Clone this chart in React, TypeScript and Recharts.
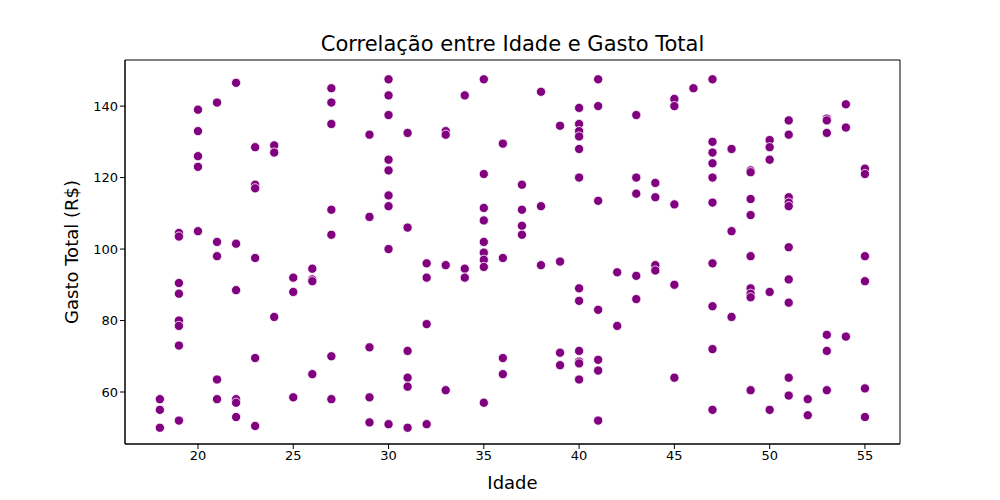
import React from "react";
import { ScatterChart, Scatter, XAxis, YAxis, Label, ReferenceArea } from "recharts";

const ages = [18,19,20,21,22,23,24,25,26,27,29,30,31,32,33,34,35,36,37,38,39,40,41,42,43,44,45,46,47,48,49,50,51,52,53,54,55];
const spends: number[][] = [
  [58,55,50],
  [104.5,103.5,90.5,87.5,80,78.5,73,52],
  [139,133,126,123,105],
  [141,102,98,63.5,58],
  [146.5,101.5,88.5,58,57,53],
  [128.5,118,117,97.5,69.5,50.5],
  [129,127,81],
  [92,88,58.5],
  [94.5,91.5,91,65],
  [145,141,135,111,104,70,58],
  [132,109,72.5,58.5,51.5],
  [147.5,143,137.5,125,122,115,112,100,51],
  [132.5,106,71.5,64,61.5,50],
  [96,92,79,51],
  [133,132,95.5,60.5],
  [143,94.5,92],
  [147.5,121,111.5,108,102,99,97,95,57],
  [129.5,97.5,69.5,65],
  [118,111,106.5,104],
  [144,112,95.5],
  [134.5,96.5,71,67.5],
  [139.5,135,133,131.5,128,120,89,85.5,71.5,68.5,68,63.5],
  [147.5,140,113.5,83,69,66,52],
  [93.5,78.5],
  [137.5,120,115.5,92.5,86],
  [118.5,114.5,95.5,94],
  [142,140,112.5,90,64],
  [145],
  [147.5,130,127,124,120,113,96,84,72,55],
  [128,105,81],
  [122,121.5,114,109.5,98,89,87.5,86.5,60.5],
  [130.5,128.5,125,88,55],
  [136,132,114.5,113,112,100.5,91.5,85,64,59],
  [58,53.5],
  [136.5,136,132.5,76,71.5,60.5],
  [140.5,134,75.5],
  [122.5,121,98,91,61,53],
];
const xTicks = [20,25,30,35,40,45,50,55];
const yTicks = [60,80,100,120,140];
const xDomain: [number, number] = [16.17, 56.84];
const yDomain: [number, number] = [45.45, 152.9];

const data = ages.flatMap((a, i) => spends[i].map((s) => ({ idade: a, gasto: s })));

const Dot = (p: any) => (
  <circle cx={p.cx} cy={p.cy} r={4.6} fill="#800080" stroke="#ffffff" strokeWidth={0.8} />
);

export default function App() {
  const font = "DejaVu Sans, sans-serif";
  return (
    <div style={{ position: "absolute", left: 0, top: 0, width: 1000, height: 500, background: "#fff", fontFamily: font }}>
      <div style={{ position: "absolute", top: 32, left: 125, width: 775, textAlign: "center", fontSize: 21, color: "#000" }}>
        Correlação entre Idade e Gasto Total
      </div>
      <ScatterChart width={1000} height={500} margin={{ top: 60, right: 100, bottom: 6, left: 55 }}>
        <XAxis
          type="number" dataKey="idade" domain={xDomain} ticks={xTicks} height={50}
          tick={{ fontSize: 13, fill: "#000", fontFamily: font }} tickLine={{ stroke: "#000" }} tickSize={5}
          axisLine={{ stroke: "#000" }} allowDataOverflow
        >
          <Label value="Idade" position="insideBottom" offset={5} style={{ fontSize: 18, fill: "#000", fontFamily: font }} />
        </XAxis>
        <YAxis
          type="number" dataKey="gasto" domain={yDomain} ticks={yTicks} width={70}
          tick={{ fontSize: 13, fill: "#000", fontFamily: font }} tickLine={{ stroke: "#000" }} tickSize={5}
          axisLine={{ stroke: "#000" }} allowDataOverflow
        >
          <Label value="Gasto Total (R$)" angle={-90} position="insideLeft" offset={17} style={{ fontSize: 18, fill: "#000", fontFamily: font, textAnchor: "middle" }} />
        </YAxis>
        <ReferenceArea x1={xDomain[0]} x2={xDomain[1]} y1={yDomain[0]} y2={yDomain[1]} fill="none" stroke="#000" strokeWidth={1} fillOpacity={0} />
        <Scatter data={data} shape={Dot} isAnimationActive={false} />
      </ScatterChart>
    </div>
  );
}
